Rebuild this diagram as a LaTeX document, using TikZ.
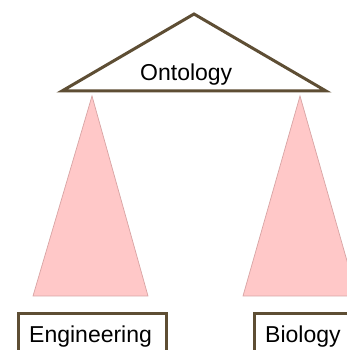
\documentclass[tikz,border=0pt]{standalone}
\usepackage{fontspec}
\setmainfont{Liberation Sans}
\definecolor{framebrown}{HTML}{5E4E34}
\definecolor{conepink}{HTML}{FFC8C8}
\definecolor{coneedge}{HTML}{D8A4A4}
\begin{document}
\begin{tikzpicture}[x=1pt,y=1pt,
  frame/.style={draw=framebrown, line width=3pt, line join=miter},
  cone/.style={fill=conepink, draw=coneedge, line width=0.7pt},
  lbl/.style={font=\fontsize{23}{23}\selectfont, inner sep=0pt, anchor=base west, text=black}]
\clip (0,0) rectangle (347,350);
\fill[white] (0,0) rectangle (347,350);

% corner points of the ontology triangle
\coordinate (ontTop) at (194,336);
\coordinate (ontL) at (62,259);
\coordinate (ontR) at (326,259);

% the two branches below it
\coordinate (engTop) at (92,254);
\coordinate (engL) at (33,54);
\coordinate (engR) at (148,54);
\coordinate (bioTop) at (300,254);
\coordinate (bioL) at (243,54);
\coordinate (bioR) at (357,54);

\draw[cone] (engTop) -- (engL) -- (engR) -- cycle;
\draw[cone] (bioTop) -- (bioL) -- (bioR) -- cycle;

\draw[frame, fill=white] (ontTop) -- (ontR) -- (ontL) -- cycle;
\node[lbl] (ontology) at (140,269) {Ontology};

% boxes at the bottom, running past the edges
\draw[frame, fill=white] (18,-10) |- (166.5,36.5) -- (166.5,-10);
\draw[frame, fill=white] (254.5,-10) |- (360,36.5);
\node[lbl] (engineering) at (29,7) {Engineering};
\node[lbl] (biology) at (265,7) {Biology};
\end{tikzpicture}
\end{document}
